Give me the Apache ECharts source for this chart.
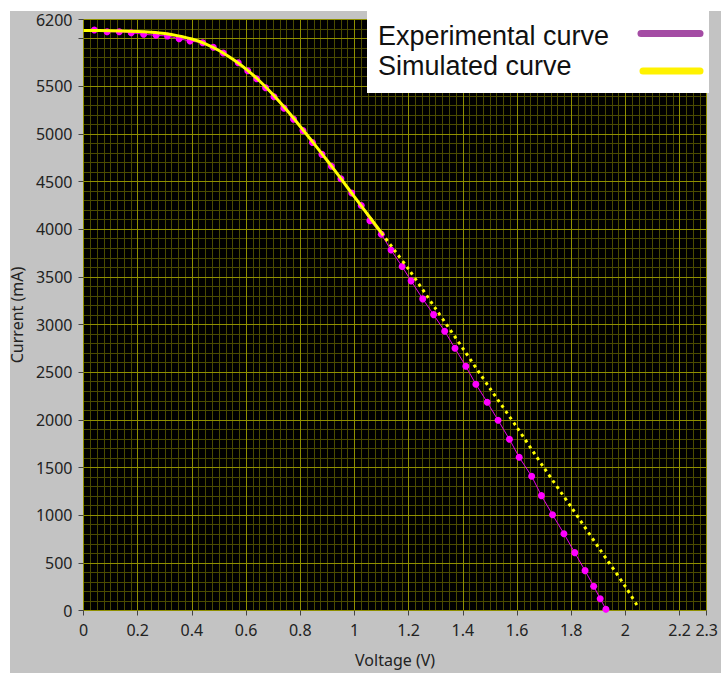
<!DOCTYPE html>
<html>
<head>
<meta charset="utf-8">
<script src="https://cdn.jsdelivr.net/npm/echarts@6/dist/echarts.min.js"></script>
<style>
html,body{margin:0;padding:0;background:#fff;}
#chart{width:721px;height:673px;}
</style>
</head>
<body>
<div id="chart"></div>
<script>
// Experimental curve (Voltage V, Current mA)
const expV = [0.040,0.087,0.132,0.176,0.222,0.268,0.310,0.353,0.393,0.440,0.479,0.516,0.571,0.606,0.639,0.672,0.703,
  0.740,0.775,0.810,0.845,0.880,0.915,0.950,0.990,
  1.025,1.057,1.099,1.135,1.176,1.209,1.252,1.292,1.333,1.371,1.411,1.448,1.490,1.530,1.572,1.608,1.654,1.690,1.731,1.773,1.813,1.851,1.883,1.907,1.928];
const expI = [6090,6072,6072,6061,6045,6034,6027,5999,5974,5957,5908,5848,5747,5663,5579,5484,5390,
  5270,5155,5035,4910,4785,4660,4530,4380,
  4248,4090,3948,3781,3608,3458,3269,3104,2930,2751,2562,2374,2185,1996,1796,1608,1408,1205,1005,806,607,418,254,124,13];

// Simulated curve (Voltage V, Current mA)
const simV = [0,0.1,0.2,0.25,0.3,0.35,0.4,0.45,0.5,0.55,0.6,0.65,0.7,0.75,0.8,0.85,0.9,0.95,1.0,1.05,1.1,1.15,1.2,1.3,1.4,1.5,1.6,1.7,1.8,1.9,2.0,2.045];
const simI = [6084,6083,6075,6066,6052,6028,5995,5945,5875,5785,5680,5555,5410,5250,5078,4900,4718,4530,4340,4150,3960,3770,3580,3165,2750,2330,1920,1495,1085,665,250,45];

// Where the simulated curve becomes visibly dotted
const simSolidEnd = 1.1;

// Axes
const xMin = 0, xMax = 2.3, xMajor = 0.2, xMinor = 0.025;
const yMin = 0, yMax = 6200, yMajor = 500, yMinor = 100;
const yHiddenLabels = [6000];

const legendNames = ['Experimental curve', 'Simulated curve'];
const legendColors = ['#a44ca4', '#fff200'];

const expData = expV.map((v, i) => [v, expI[i]]);
const simSolid = [], simDotted = [];
simV.forEach((v, i) => {
  if (v <= simSolidEnd) simSolid.push([v, simI[i]]);
  if (v >= simSolidEnd) simDotted.push([v, simI[i]]);
});

const font = 'Noto Sans';
const chart = echarts.init(document.getElementById('chart'), null, {renderer: 'svg'});

const hiddenAxis = {
  axisLine: {show: false}, axisTick: {show: false}, axisLabel: {show: false}
};
const legendFont = '27px "Liberation Sans", Arial, sans-serif';

chart.setOption({
  animation: false,
  backgroundColor: '#ffffff',
  grid: {left: 83.5, top: 19.5, right: 12, bottom: 62.5, show: true, backgroundColor: '#000000', borderWidth: 0},
  xAxis: [
    Object.assign({type: 'value', min: xMin, max: xMax, interval: xMinor, position: 'bottom', z: 0,
      splitLine: {show: true, lineStyle: {color: '#4b4b00', width: 1}}}, hiddenAxis),
    {type: 'value', min: xMin, max: xMax, interval: xMajor, position: 'bottom', offset: 2, z: 1,
      axisLine: {show: false},
      axisTick: {show: true, length: 5, lineStyle: {color: '#444', width: 1}},
      axisLabel: {margin: 9, fontSize: 16, color: '#222', fontFamily: font},
      splitLine: {show: true, lineStyle: {color: '#8f8f00', width: 1}},
      name: 'Voltage (V)', nameLocation: 'middle', nameGap: 39,
      nameTextStyle: {fontSize: 16, color: '#222', fontFamily: font}}
  ],
  yAxis: [
    Object.assign({type: 'value', min: yMin, max: yMax, interval: yMinor, position: 'left', z: 0,
      splitLine: {show: true, lineStyle: {color: '#4b4b00', width: 1}}}, hiddenAxis),
    {type: 'value', min: yMin, max: yMax, interval: yMajor, position: 'left', offset: 2, z: 1,
      axisLine: {show: false},
      axisTick: {show: true, length: 5, lineStyle: {color: '#444', width: 1}},
      axisLabel: {margin: 9, fontSize: 16, color: '#222', fontFamily: font,
        formatter: v => yHiddenLabels.indexOf(v) >= 0 ? '' : String(v)},
      splitLine: {show: true, lineStyle: {color: '#8f8f00', width: 1}},
      name: 'Current (mA)', nameLocation: 'middle', nameGap: 56,
      nameTextStyle: {fontSize: 16, color: '#222', fontFamily: font}}
  ],
  series: [
    {name: legendNames[0], type: 'line', xAxisIndex: 1, yAxisIndex: 1, data: expData, z: 3,
      symbol: 'circle', symbolSize: 7, showSymbol: true,
      itemStyle: {color: '#ff00ff', borderWidth: 0},
      lineStyle: {color: '#e600e6', width: 1}},
    {name: legendNames[1], type: 'line', xAxisIndex: 1, yAxisIndex: 1, data: simSolid, z: 4,
      showSymbol: false, symbol: 'none', smooth: 0.3,
      lineStyle: {color: '#ffff00', width: 3}},
    {name: legendNames[1] + ' ', type: 'line', xAxisIndex: 1, yAxisIndex: 1, data: simDotted, z: 4,
      showSymbol: false, symbol: 'none', smooth: 0.3,
      lineStyle: {color: '#ffff00', width: 3, type: [3, 4], cap: 'butt'}}
  ],
  graphic: [
    {type: 'rect', z: -100, silent: true, shape: {x: 10, y: 11, width: 711, height: 662}, style: {fill: '#c3c3c3'}},
    {type: 'rect', z: 100, zlevel: 1, shape: {x: 367, y: 0, width: 342, height: 93}, style: {fill: '#ffffff'}},
    {type: 'text', z: 101, zlevel: 1, x: 378, y: 36, style: {text: legendNames[0], font: legendFont, fill: '#111', verticalAlign: 'middle'}},
    {type: 'text', z: 101, zlevel: 1, x: 378, y: 66, style: {text: legendNames[1], font: legendFont, fill: '#111', verticalAlign: 'middle'}},
    {type: 'line', z: 101, zlevel: 1, shape: {x1: 641, y1: 33.5, x2: 700, y2: 33.5}, style: {stroke: legendColors[0], lineWidth: 7, lineCap: 'round'}},
    {type: 'line', z: 101, zlevel: 1, shape: {x1: 643, y1: 71, x2: 700, y2: 71}, style: {stroke: legendColors[1], lineWidth: 7, lineCap: 'round'}}
  ]
});
</script>
</body>
</html>
